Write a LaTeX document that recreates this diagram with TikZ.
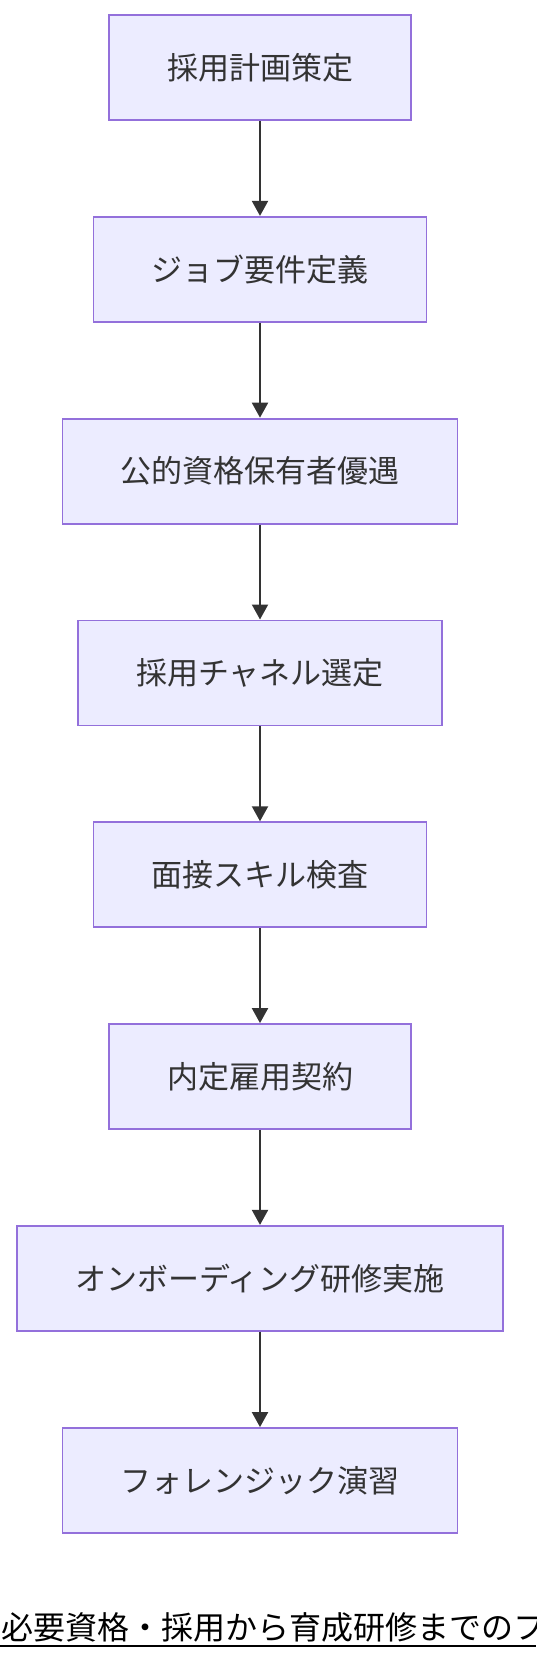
\documentclass[tikz,border=0pt]{standalone}
\usepackage{fontspec}
\setmainfont{Noto Sans CJK JP}
\usetikzlibrary{arrows.meta}
\definecolor{boxfill}{HTML}{ECECFF}
\definecolor{boxline}{HTML}{9370DB}
\definecolor{txt}{HTML}{333333}
\begin{document}
\begin{tikzpicture}[x=1pt,y=-1pt,
  stepbox/.style={draw=boxline, fill=boxfill, line width=1.8pt,
    minimum height=105pt, inner xsep=58pt, inner ysep=0pt,
    font=\fontsize{31}{37}\selectfont, text=txt},
  flow/.style={draw=txt, line width=2pt, -{Triangle[width=16pt,length=15pt]}},
  titletext/.style={anchor=base west, inner sep=0pt, font=\fontsize{32}{38}\selectfont, text=black}]
\useasboundingbox (0,0) rectangle (536,1660);
\node[stepbox] (n1) at (260,67.5) {採用計画策定};
\node[stepbox] (n2) at (260,269.3) {ジョブ要件定義};
\node[stepbox] (n3) at (260,471.1) {公的資格保有者優遇};
\node[stepbox] (n4) at (260,672.9) {採用チャネル選定};
\node[stepbox] (n5) at (260,874.7) {面接スキル検査};
\node[stepbox] (n6) at (260,1076.5) {内定雇用契約};
\node[stepbox] (n7) at (260,1278.3) {オンボーディング研修実施};
\node[stepbox] (n8) at (260,1480.5) {フォレンジック演習};
\draw[flow] (n1.south) -- (n2.north);
\draw[flow] (n2.south) -- (n3.north);
\draw[flow] (n3.south) -- (n4.north);
\draw[flow] (n4.south) -- (n5.north);
\draw[flow] (n5.south) -- (n6.north);
\draw[flow] (n6.south) -- (n7.north);
\draw[flow] (n7.south) -- (n8.north);
\begin{scope}
\clip (0,0) rectangle (536,1660);
\node[titletext] (title) at (1,1639) {必要資格・採用から育成研修までのフ};
\end{scope}
\draw[line width=2pt] (0,1646) -- (536,1646);
\end{tikzpicture}
\end{document}
